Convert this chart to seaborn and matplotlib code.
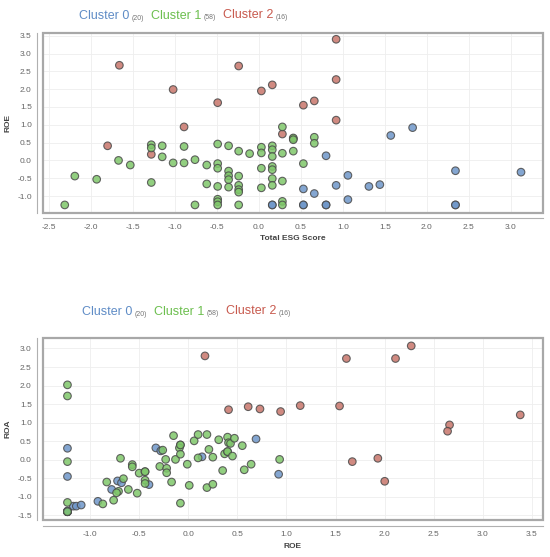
import numpy as np
import pandas as pd
import matplotlib
matplotlib.use("Agg")
import matplotlib.pyplot as plt
import seaborn as sns
from matplotlib.patches import Rectangle

# cluster names / sizes
clusters = ["Cluster 0", "Cluster 1", "Cluster 2"]
counts = [20, 58, 16]
colors = {"Cluster 0": "#6f97c9", "Cluster 1": "#7fc76a", "Cluster 2": "#c8766b"}
title_colors = ["#5f8cc6", "#6cbf4e", "#c85a4e"]

# top panel: Total ESG Score vs ROE
top_esg_0 = [1.83, 1.57, 0.80, 2.34, 3.12, 1.06, 0.92, 1.44, 1.31, 0.53,
             0.66, 1.06, 0.53, 0.53, 0.80, 0.80, 2.34, 2.34, 0.16, 0.16]
top_roe_0 = [0.92, 0.70, 0.13, -0.29, -0.33, -0.42, -0.70, -0.68, -0.73, -0.80,
             -0.93, -1.10, -1.25, -1.25, -1.25, -1.25, -1.25, -1.25, -1.25, -1.25]

top_esg_1 = [-1.28, -1.28, -1.15, -0.89, -0.49, -0.36, -0.24, -0.11, 0.03, 0.03,
             0.16, 0.16, 0.16, -1.67, -1.53, -1.15, -1.02, -0.89, -0.76, -0.62,
             -0.49, -0.49, -0.36, -0.36, -0.36, -0.36, -0.24, -0.24, -0.24, -0.24,
             0.03, 0.03, 0.16, 0.16, 0.16, 0.16, -2.19, -1.93, -1.28, -0.62,
             -0.49, -2.31, -0.76, -0.49, -0.49, -0.49, -0.24, 0.28, 0.41, 0.41,
             0.66, 0.66, 0.28, 0.41, 0.53, 0.28, 0.28, 0.28]
top_roe_1 = [0.44, 0.35, 0.41, 0.39, 0.46, 0.41, 0.26, 0.19, 0.37, 0.21,
             0.41, 0.30, 0.11, 0.00, -0.13, 0.10, -0.07, -0.07, 0.02, -0.13,
             -0.09, -0.22, -0.30, -0.43, -0.54, -0.75, -0.44, -0.70, -0.82, -0.89,
             -0.22, -0.77, -0.17, -0.26, -0.51, -0.70, -0.44, -0.53, -0.62, -0.66,
             -0.73, -1.25, -1.25, -1.09, -1.16, -1.25, -1.25, 0.94, 0.63, 0.58,
             0.65, 0.48, 0.20, 0.26, -0.09, -0.58, -1.15, -1.25]

top_esg_2 = [-1.66, -0.24, -1.02, 0.16, 0.03, -0.49, -0.89, -1.80,
             -1.28, 0.92, 0.92, 0.66, 0.53, 0.92, 0.28, 0.41]
top_roe_2 = [2.67, 2.65, 1.99, 2.12, 1.95, 1.62, 0.94, 0.41,
             0.17, 3.40, 2.27, 1.67, 1.55, 1.13, 0.74, 0.61]

# bottom panel: ROE vs ROA
bot_roe_0 = [-1.23, -1.23, -1.23, -1.23, -1.23, -1.23, -1.17, -1.14, -1.09, -0.92,
             -0.78, -0.72, -0.68, -0.40, -0.33, -0.28, 0.14, 0.69, 0.92, -1.23]
bot_roa_0 = [0.31, -0.45, -1.40, -1.40, -1.40, -1.40, -1.25, -1.25, -1.22, -1.12,
             -0.80, -0.57, -0.62, -0.67, 0.32, 0.24, 0.08, 0.56, -0.39, -1.38]

bot_roe_1 = [-1.23, -1.23, -1.23, -1.23, -1.23, -0.69, -0.57, -0.57, -0.50, -0.44,
             -0.44, -0.44, -0.44, -0.66, -0.83, -0.61, -0.71, -0.73, -0.76, -0.87,
             -0.52, -0.15, -0.26, -0.29, -0.22, -0.22, -0.23, -0.17, -0.13, -0.08,
             -0.09, -0.08, -0.08, -0.01, -0.08, 0.01, 0.06, 0.10, 0.10, 0.19,
             0.21, 0.25, 0.19, 0.25, 0.31, 0.35, 0.40, 0.41, 0.43, 0.37,
             0.40, 0.40, 0.45, 0.47, 0.55, 0.57, 0.64, 0.93]
bot_roa_1 = [2.02, 1.72, -0.05, -1.15, -1.40, 0.04, -0.13, -0.19, -0.36, -0.32,
             -0.32, -0.55, -0.64, -0.51, -0.60, -0.80, -0.85, -0.89, -1.09, -1.19,
             -0.90, 0.65, 0.26, -0.18, -0.23, -0.35, 0.01, -0.60, 0.01, 0.40,
             0.32, 0.15, 0.40, -0.12, -1.17, -0.69, 0.51, 0.68, 0.05, 0.68,
             0.28, 0.07, -0.75, -0.66, 0.54, -0.29, 0.61, 0.46, 0.44, 0.16,
             0.22, 0.22, 0.10, 0.58, 0.38, -0.27, -0.12, 0.01]

bot_roe_2 = [0.17, 0.41, 0.61, 0.73, 0.94, 1.14, 1.54, 1.61,
             2.11, 2.27, 3.38, 2.66, 2.64, 1.67, 1.93, 2.00]
bot_roa_2 = [2.80, 1.35, 1.43, 1.37, 1.30, 1.46, 1.45, 2.73,
             2.73, 3.07, 1.21, 0.94, 0.77, -0.05, 0.04, -0.58]


def make_df(xs, ys, xname, yname):
    parts = []
    # draw order: cluster 0, cluster 2, cluster 1
    for i in [0, 2, 1]:
        parts.append(pd.DataFrame({xname: xs[i], yname: ys[i], "cluster": clusters[i]}))
    return pd.concat(parts, ignore_index=True)


top = make_df([top_esg_0, top_esg_1, top_esg_2], [top_roe_0, top_roe_1, top_roe_2],
              "Total ESG Score", "ROE")
bot = make_df([bot_roe_0, bot_roe_1, bot_roe_2], [bot_roa_0, bot_roa_1, bot_roa_2],
              "ROE", "ROA")

sns.set_style("whitegrid")
plt.rcParams['font.family'] = ['Liberation Sans', 'DejaVu Sans']

fig = plt.figure(figsize=(5.5, 5.57), dpi=100)
ax1 = fig.add_axes([0.078, 0.618, 0.909, 0.323])
ax2 = fig.add_axes([0.078, 0.066, 0.909, 0.327])


def style_axes(ax, xlim, ylim, xticks, yticks, xlabel, ylabel):
    ax.set_xlim(xlim)
    ax.set_ylim(ylim)
    ax.set_xticks(xticks)
    ax.set_yticks(yticks)
    ax.set_xticklabels([f"{t:.1f}" for t in xticks])
    ax.set_yticklabels([f"{t:.1f}" for t in yticks])
    ax.grid(True, color="#eeeeee", lw=0.6)
    ax.tick_params(labelsize=6, colors="#888888", length=2, width=0.6, pad=2)
    ax.tick_params(axis="both", labelcolor="#666666")
    for side in ["top", "right"]:
        ax.spines[side].set_visible(False)
    for side in ["left", "bottom"]:
        ax.spines[side].set_position(("outward", 4))
        ax.spines[side].set_color("#b0b0b0")
        ax.spines[side].set_linewidth(0.8)
    # plot frame
    ax.add_patch(Rectangle((0, 0), 1, 1, transform=ax.transAxes, fill=False,
                           edgecolor="#a8a8a8", lw=1.6, clip_on=False, zorder=5))
    ax.set_xlabel(xlabel, fontsize=6, fontweight="bold", color="#444444", labelpad=3)
    ax.set_ylabel(ylabel, fontsize=6, fontweight="bold", color="#444444", labelpad=4)


for ax, df, x, y in [(ax1, top, "Total ESG Score", "ROE"), (ax2, bot, "ROE", "ROA")]:
    sns.scatterplot(data=df, x=x, y=y, hue="cluster", palette=colors, ax=ax,
                    s=30, alpha=0.85, edgecolor="#4a4a4a", linewidth=0.8,
                    legend=False, zorder=3)

style_axes(ax1, (-2.57, 3.38), (-1.47, 3.58), np.arange(-2.5, 3.01, 0.5),
           np.arange(-1.0, 3.51, 0.5), "Total ESG Score", "ROE")
style_axes(ax2, (-1.48, 3.61), (-1.63, 3.28), np.arange(-1.0, 3.51, 0.5),
           np.arange(-1.5, 3.01, 0.5), "ROE", "ROA")


# legend row above each panel: "Cluster n" followed by the small count
def cluster_legend(x0, y0):
    last = None
    for i in range(3):
        if last is None:
            name = fig.text(x0 / 550, 1 - y0 / 557, clusters[i], fontsize=9,
                            color=title_colors[i], va="bottom")
        else:
            name = ax1.annotate(clusters[i], xy=(1, 0), xycoords=last,
                                xytext=(5, 0), textcoords="offset points",
                                fontsize=9, color=title_colors[i], va="bottom",
                                annotation_clip=False)
        last = ax1.annotate(f"({counts[i]})", xy=(1, 0), xycoords=name,
                            xytext=(1.5, 0.2), textcoords="offset points",
                            fontsize=5, color="#777777", va="bottom",
                            annotation_clip=False)


cluster_legend(79, 22)
cluster_legend(82, 318)

fig.savefig("out.png", dpi=100)
